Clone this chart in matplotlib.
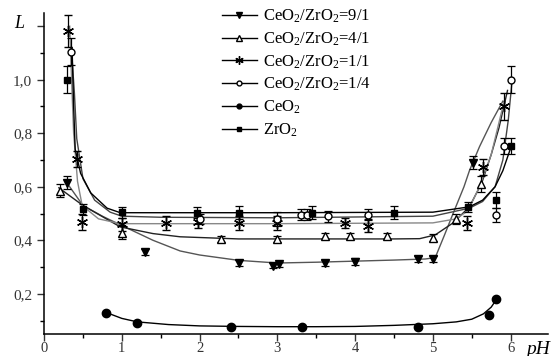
import matplotlib
matplotlib.use("Agg")
import matplotlib.pyplot as plt
from matplotlib.lines import Line2D

plt.rcParams["font.family"] = ["Liberation Serif", "DejaVu Serif"]
plt.rcParams["mathtext.fontset"] = "custom"
plt.rcParams["mathtext.rm"] = "Liberation Serif"
plt.rcParams["mathtext.it"] = "Liberation Serif:italic"

# measured points (pH, L, error)
x91 = [0.29, 1.3, 2.51, 2.94, 3.02, 3.61, 4.0, 4.81, 5.0, 5.51]
y91 = [0.615, 0.357, 0.316, 0.305, 0.31, 0.316, 0.32, 0.33, 0.33, 0.69]
e91 = [0.025, 0.012, 0.012, 0.01, 0.01, 0.012, 0.012, 0.012, 0.012, 0.025]

x41 = [0.2, 1.0, 2.28, 3.0, 3.61, 3.93, 4.41, 5.0, 5.3, 5.62]
y41 = [0.585, 0.428, 0.405, 0.405, 0.416, 0.416, 0.416, 0.41, 0.48, 0.61]
e41 = [0.025, 0.025, 0.012, 0.012, 0.012, 0.012, 0.012, 0.012, 0.02, 0.03]

x11 = [0.31, 0.42, 0.49, 1.0, 1.57, 1.98, 2.51, 3.0, 3.87, 4.17, 5.44, 5.64, 5.92]
y11 = [1.183, 0.704, 0.47, 0.46, 0.465, 0.47, 0.465, 0.465, 0.465, 0.455, 0.465, 0.675, 0.90]
e11 = [0.06, 0.03, 0.03, 0.025, 0.025, 0.025, 0.025, 0.025, 0.02, 0.025, 0.025, 0.03, 0.05]

x14 = [0.35, 2.0, 3.0, 3.3, 3.38, 3.65, 4.17, 5.81, 5.91, 6.01]
y14 = [1.105, 0.48, 0.48, 0.495, 0.495, 0.49, 0.495, 0.495, 0.753, 1.0]
e14 = [0.05, 0.02, 0.025, 0.02, 0.02, 0.02, 0.02, 0.025, 0.03, 0.05]

xce = [0.8, 1.2, 2.41, 3.32, 4.81, 5.72, 5.81]
yce = [0.129, 0.09, 0.077, 0.077, 0.077, 0.121, 0.18]

xzr = [0.3, 0.5, 1.0, 1.97, 2.51, 3.45, 4.5, 5.45, 5.81, 6.01]
yzr = [1.0, 0.515, 0.504, 0.503, 0.503, 0.503, 0.503, 0.524, 0.55, 0.753]
ezr = [0.05, 0.02, 0.02, 0.02, 0.025, 0.025, 0.025, 0.02, 0.03, 0.03]

# fitted curves
cx91 = [0.28, 0.5, 0.75, 1.0, 1.4, 1.75, 2.0, 2.5, 3.0, 3.5, 4.0, 4.5, 4.9, 5.03,
        5.15, 5.26, 5.4, 5.47, 5.6, 5.75, 5.9]
cy91 = [0.62, 0.53, 0.49, 0.455, 0.40, 0.36, 0.345, 0.325, 0.315, 0.318, 0.322,
        0.326, 0.33, 0.335, 0.42, 0.50, 0.60, 0.66, 0.75, 0.84, 0.92]

cx41 = [0.19, 0.5, 0.98, 1.4, 1.75, 2.5, 3.5, 4.5, 4.83, 5.03, 5.26, 5.47, 5.63,
        5.75, 5.85, 5.96]
cy41 = [0.596, 0.53, 0.45, 0.425, 0.413, 0.405, 0.405, 0.405, 0.406, 0.42, 0.465,
        0.525, 0.615, 0.72, 0.82, 0.96]

cx11 = [0.33, 0.36, 0.38, 0.43, 0.49, 0.7, 0.98, 1.5, 3.0, 5.0, 5.3, 5.45, 5.6,
        5.75, 5.9]
cy11 = [1.2, 0.95, 0.8, 0.62, 0.53, 0.48, 0.462, 0.462, 0.462, 0.465, 0.48, 0.51,
        0.6, 0.72, 0.9]

cx14 = [0.35, 0.39, 0.42, 0.5, 0.65, 0.85, 1.0, 1.5, 3.0, 5.0, 5.47, 5.64, 5.8,
        5.9, 5.97, 6.02]
cy14 = [1.12, 0.95, 0.78, 0.63, 0.55, 0.505, 0.49, 0.486, 0.484, 0.49, 0.52,
        0.545, 0.6, 0.7, 0.85, 1.0]

cxzr = [0.36, 0.38, 0.40, 0.47, 0.6, 0.81, 0.98, 1.75, 3.0, 5.0, 5.47, 5.64, 5.8,
        5.9, 6.01]
cyzr = [1.12, 0.9, 0.74, 0.65, 0.577, 0.52, 0.503, 0.503, 0.503, 0.505, 0.525,
        0.55, 0.6, 0.66, 0.753]

cxce = [0.8, 1.0, 1.2, 1.6, 2.0, 2.5, 3.0, 3.5, 4.0, 4.5, 5.0, 5.3, 5.5, 5.65,
        5.75, 5.82]
cyce = [0.13, 0.108, 0.095, 0.085, 0.08, 0.078, 0.077, 0.077, 0.078, 0.082, 0.088,
        0.095, 0.105, 0.125, 0.15, 0.18]

labels = [r"CeO$_2$/ZrO$_2$=9/1", r"CeO$_2$/ZrO$_2$=4/1", r"CeO$_2$/ZrO$_2$=1/1",
          r"CeO$_2$/ZrO$_2$=1/4", r"CeO$_2$", r"ZrO$_2$"]

fig = plt.figure(figsize=(5.58, 3.56), dpi=100)
ax = fig.add_axes([0.079, 0.062, 0.903, 0.902])

lw = 1.0
ax.plot(cx91, cy91, color="#555555", lw=lw)
ax.plot(cx41, cy41, color="#222222", lw=lw)
ax.plot(cx11, cy11, color="#888888", lw=lw)
ax.plot(cx14, cy14, color="#444444", lw=lw)
ax.plot(cxzr, cyzr, color="black", lw=lw)
ax.plot(cxce, cyce, color="black", lw=lw)

ekw = dict(ls="none", ecolor="black", elinewidth=0.9, capsize=3, capthick=0.9,
           mec="black", zorder=4)
ax.errorbar(x91, y91, yerr=e91, marker="v", ms=6, mfc="black", **ekw)
ax.errorbar(x41, y41, yerr=e41, marker="^", ms=6, mfc="white", **ekw)
ax.errorbar(x11, y11, yerr=e11, marker=(6, 2, 0), ms=8, mfc="black", mew=1.0, **ekw)
ax.errorbar(x14, y14, yerr=e14, marker="o", ms=5, mfc="white", **ekw)
ax.errorbar(xzr, yzr, yerr=ezr, marker="s", ms=5, mfc="black", **ekw)
ax.plot(xce, yce, ls="none", marker="o", ms=6, mfc="black", mec="black", zorder=4)

ax.set_xlim(0, 6.48)
ax.set_ylim(0.05, 1.25)
ax.set_xticks(range(7))
ax.set_xticks([0.5, 1.5, 2.5, 3.5, 4.5, 5.5], minor=True)
ax.set_yticks([0.2, 0.4, 0.6, 0.8, 1.0, 1.2])
ax.set_yticklabels(["0,2", "0,4", "0,6", "0,8", "1,0", ""])
ax.set_yticks([0.1, 0.3, 0.5, 0.7, 0.9, 1.1], minor=True)
ax.tick_params(which="major", direction="out", length=5, width=1, labelsize=11,
               colors="#333333")
ax.tick_params(axis="x", which="major", pad=1, labelsize=10.5)
ax.tick_params(which="minor", direction="out", length=3, width=1)
ax.spines[["top", "right"]].set_visible(False)
for s in ["left", "bottom"]:
    ax.spines[s].set_linewidth(1.1)

fig.text(14 / 558, 1 - 23 / 356, "L", fontsize=13, style="italic", va="center")
fig.text(526 / 558, 1 - 349 / 356, "pH", fontsize=14, style="italic", va="center")

handles = [
    Line2D([], [], color="black", lw=1, marker="v", ms=5, mfc="black"),
    Line2D([], [], color="black", lw=1, marker="^", ms=4.5, mfc="white"),
    Line2D([], [], color="black", lw=1, marker=(6, 2, 0), ms=6),
    Line2D([], [], color="black", lw=1, marker="o", ms=3.5, mfc="white"),
    Line2D([], [], color="black", lw=1, marker="o", ms=3.5, mfc="black"),
    Line2D([], [], color="black", lw=1, marker="s", ms=3.5, mfc="black"),
]
fig.legend(handles, labels, loc="upper left", bbox_to_anchor=(215 / 558, 1 - 1 / 356),
           frameon=False, fontsize=12, handlelength=2.1, handletextpad=0.4,
           labelspacing=0.32, borderaxespad=0)

fig.savefig("out.png", dpi=100)
